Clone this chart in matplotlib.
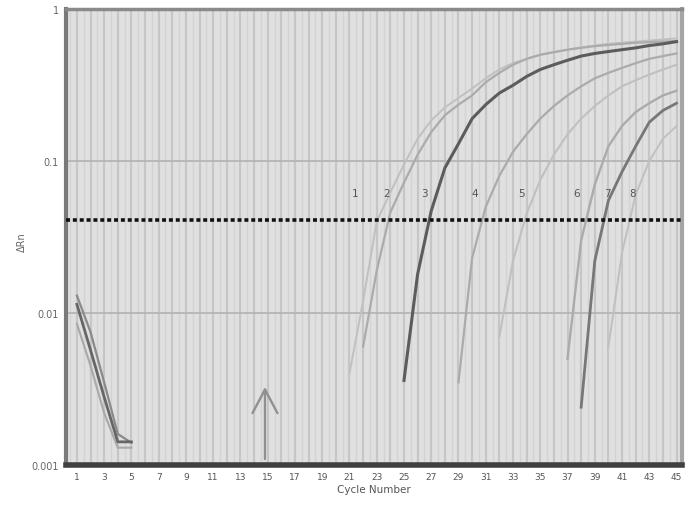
import matplotlib
matplotlib.use("Agg")
import matplotlib.pyplot as plt
import numpy as np

# ---------------- data ----------------
x_ticks = list(range(1, 46, 2))
y_ticks = [0.001, 0.01, 0.1, 1]
y_tick_labels = ["0.001", "0.01", "0.1", "1"]
threshold = 0.041

c1_cycles = list(range(21, 46))
c1_vals = [0.004, 0.012, 0.04, 0.062, 0.095, 0.14, 0.185, 0.225, 0.26, 0.3, 0.35, 0.4,
           0.44, 0.47, 0.5, 0.52, 0.54, 0.56, 0.575, 0.59, 0.6, 0.61, 0.62, 0.63, 0.64]
c2_cycles = list(range(22, 46))
c2_vals = [0.006, 0.019, 0.046, 0.072, 0.11, 0.155, 0.2, 0.235, 0.27, 0.33, 0.38, 0.43,
           0.47, 0.5, 0.52, 0.54, 0.555, 0.57, 0.58, 0.59, 0.6, 0.605, 0.61, 0.615]
c3_cycles = list(range(25, 46))
c3_vals = [0.0036, 0.018, 0.047, 0.09, 0.13, 0.19, 0.235, 0.28, 0.315, 0.36, 0.40,
           0.43, 0.46, 0.49, 0.51, 0.525, 0.54, 0.555, 0.575, 0.59, 0.61]
c4_cycles = list(range(29, 46))
c4_vals = [0.0035, 0.023, 0.05, 0.08, 0.115, 0.15, 0.19, 0.23, 0.27, 0.31, 0.35, 0.38,
           0.41, 0.44, 0.47, 0.49, 0.51]
c5_cycles = list(range(32, 46))
c5_vals = [0.007, 0.022, 0.045, 0.075, 0.11, 0.15, 0.19, 0.23, 0.27, 0.31, 0.34, 0.37,
           0.40, 0.43]
c6_cycles = list(range(37, 46))
c6_vals = [0.005, 0.03, 0.07, 0.125, 0.17, 0.21, 0.24, 0.27, 0.29]
c7_cycles = list(range(38, 46))
c7_vals = [0.0024, 0.022, 0.055, 0.085, 0.125, 0.18, 0.215, 0.24]
c8_cycles = list(range(40, 46))
c8_vals = [0.006, 0.025, 0.06, 0.1, 0.14, 0.17]

nc_cycles = [1, 2, 3, 4, 5]
nc1_vals = [0.0114, 0.0057, 0.0028, 0.00142, 0.00142]
nc2_vals = [0.0085, 0.0045, 0.0022, 0.0013, 0.0013]
nc3_vals = [0.013, 0.0075, 0.0035, 0.0016, 0.0014]

curve_labels = ["1", "2", "3", "4", "5", "6", "7", "8"]
label_x = [21.4, 23.7, 26.5, 30.2, 33.6, 37.7, 39.9, 41.8]
label_y = 0.062

arrow_cycle = 14.8
arrow_from = 0.00105
arrow_to = 0.0034

# ---------------- figure ----------------
fig = plt.figure(figsize=(6.92, 5.10), dpi=100)
ax = fig.add_axes([66 / 692, 1 - 466 / 510, (682 - 66) / 692, (466 - 10) / 510])
ax.set_facecolor("#e0e0e0")
ax.set_yscale("log")
ax.set_xlim(0.2, 45.4)
ax.set_ylim(0.001, 1)

# vertical stripes / grid
for c in np.arange(1, 46, 1):
    ax.axvline(c, color="#c6c6c6", lw=1.6, zorder=0)
for c in np.arange(0.5, 46, 1):
    ax.axvline(c, color="#d3d3d3", lw=1.0, zorder=0)
for v in [0.01, 0.1]:
    ax.axhline(v, color="#b2b2b2", lw=1.2, zorder=1)

light = "#ababab"
faint = "#c0c0c0"
dark = "#5c5c5c"
ax.plot(c1_cycles, c1_vals, color=faint, lw=1.4, zorder=3)
ax.plot(c2_cycles, c2_vals, color=light, lw=1.6, zorder=3)
ax.plot(c3_cycles, c3_vals, color=dark, lw=2.2, zorder=4)
ax.plot(c4_cycles, c4_vals, color=light, lw=1.6, zorder=3)
ax.plot(c5_cycles, c5_vals, color=faint, lw=1.5, zorder=3)
ax.plot(c6_cycles, c6_vals, color=light, lw=1.7, zorder=3)
ax.plot(c7_cycles, c7_vals, color="#777777", lw=2.0, zorder=4)
ax.plot(c8_cycles, c8_vals, color=faint, lw=1.4, zorder=3)

ax.plot(nc_cycles, nc2_vals, color="#a8a8a8", lw=1.5, zorder=3)
ax.plot(nc_cycles, nc3_vals, color="#8a8a8a", lw=1.6, zorder=3)
ax.plot(nc_cycles, nc1_vals, color="#666666", lw=2.0, zorder=4)

ax.axhline(threshold, color="#111111", lw=2.6, linestyle=(0, (1.1, 0.8)), zorder=5)

for t, xl in zip(curve_labels, label_x):
    ax.text(xl, label_y, t, fontsize=7.5, color="#555555", ha="center", va="center", zorder=6)

ax.annotate("", xy=(arrow_cycle, arrow_to), xytext=(arrow_cycle, arrow_from),
            arrowprops=dict(arrowstyle="->,head_width=0.9,head_length=1.7",
                            color="#909090", lw=1.7), zorder=6)

# spines
ax.spines["left"].set_color("#7a7a7a")
ax.spines["left"].set_linewidth(3)
ax.spines["top"].set_color("#8a8a8a")
ax.spines["top"].set_linewidth(2.5)
ax.spines["right"].set_color("#a5a5a5")
ax.spines["right"].set_linewidth(3)
ax.spines["bottom"].set_color("#404040")
ax.spines["bottom"].set_linewidth(4)

ax.set_xticks(x_ticks)
ax.set_xticklabels([str(t) for t in x_ticks], fontsize=6.5, color="#555555")
ax.set_yticks(y_ticks)
ax.set_yticklabels(y_tick_labels, fontsize=7, color="#666666")
ax.minorticks_off()
ax.tick_params(axis="both", length=0, pad=5)

ax.set_xlabel("Cycle Number", fontsize=7.5, color="#555555", labelpad=2)
fig.text(22 / 692, 1 - 242 / 510, "ΔRn", rotation=90, fontsize=7, color="#666666",
         ha="center", va="center")

fig.savefig("out.png", dpi=100)
